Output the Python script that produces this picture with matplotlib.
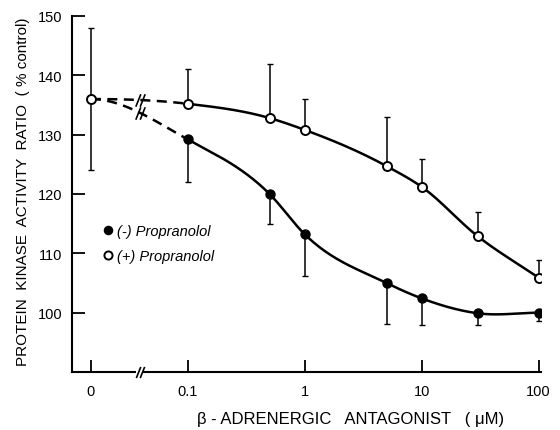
import numpy as np
import matplotlib
matplotlib.use('Agg')
import matplotlib.pyplot as plt
from matplotlib.path import Path

# --- data ---
conc = [0, 0.1, 0.5, 1, 5, 10, 30, 100]          # uM

plus_mean = [136, 135.2, 132.8, 130.8, 124.7, 121.2, 112.9, 105.9]
plus_hi   = [148, 141.0, 141.9, 136.0, 133.0, 125.9, 116.9, 108.8]
plus_lo   = [124, 135.2, 132.8, 130.8, 124.7, 121.2, 112.9, 105.9]

minus_mean = [136, 129.2, 120.0, 113.2, 105.0, 102.4, 99.9, 100.0]
minus_lo   = [136, 122.0, 115.0, 106.2, 98.1, 98.0, 98.0, 98.6]

xticks = [0, 0.1, 1, 10, 100]
xticklabels = ['0', '0.1', '1', '10', '100']
yticks = [100, 110, 120, 130, 140, 150]

plt.rcParams['font.family'] = ['Liberation Sans', 'DejaVu Sans']

# broken axis: 0 sits left of 0.1, log scale after that
P0 = -1.829


def fwd(x):
    x = np.asarray(x, dtype=float)
    lin = P0 + x / 0.1 * (-1 - P0)
    lg = np.log10(np.maximum(x, 1e-12))
    return np.where(x >= 0.1, lg, lin)


def inv(p):
    p = np.asarray(p, dtype=float)
    lin = (p - P0) / (-1 - P0) * 0.1
    return np.where(p >= -1, 10.0 ** np.minimum(p, 10), lin)


def smooth(xs, ys, n=40):
    # cubic hermite through the points in scale space, flat start
    px = fwd(xs)
    ys = np.asarray(ys, dtype=float)
    m = np.zeros(len(px))
    for k in range(1, len(px) - 1):
        h1 = px[k] - px[k - 1]
        h2 = px[k + 1] - px[k]
        d1 = (ys[k] - ys[k - 1]) / h1
        d2 = (ys[k + 1] - ys[k]) / h2
        m[k] = (h2 * d1 + h1 * d2) / (h1 + h2)
    m[-1] = (ys[-1] - ys[-2]) / (px[-1] - px[-2])
    m[0] = 0
    outx, outy = [], []
    for k in range(len(px) - 1):
        h = px[k + 1] - px[k]
        t = np.linspace(0, 1, n)
        h00 = 2 * t**3 - 3 * t**2 + 1
        h10 = t**3 - 2 * t**2 + t
        h01 = -2 * t**3 + 3 * t**2
        h11 = t**3 - t**2
        yy = h00 * ys[k] + h10 * h * m[k] + h01 * ys[k + 1] + h11 * h * m[k + 1]
        outx.append(px[k] + t * h)
        outy.append(yy)
    return np.concatenate(outx), np.concatenate(outy)


fig = plt.figure(figsize=(5.6, 4.31), dpi=100)
ax = fig.add_axes([0.1286, 0.1346, 0.8375, 0.826])
ax.set_xscale('function', functions=(fwd, inv))

for mean in (plus_mean, minus_mean):
    sx, sy = smooth(conc, mean)
    dash = sx <= -1
    ax.plot(inv(sx[dash]), sy[dash], color='k', lw=1.8, ls=(0, (4, 2.6)))
    ax.plot(inv(sx[~dash]), sy[~dash], color='k', lw=1.8)

# error bars (one sided)
plus_err = [np.array(plus_mean) - np.array(plus_lo), np.array(plus_hi) - np.array(plus_mean)]
minus_err = [np.array(minus_mean) - np.array(minus_lo), np.zeros(len(conc))]
ax.errorbar(conc, minus_mean, yerr=minus_err, fmt='none', ecolor='k', elinewidth=1.1, capsize=2)
ax.errorbar(conc, plus_mean, yerr=plus_err, fmt='none', ecolor='k', elinewidth=1.1, capsize=2)

ax.plot(conc[1:], minus_mean[1:], 'o', color='k', ms=6.5, zorder=5, label='(-) Propranolol')
ax.plot(conc, plus_mean, 'o', mfc='white', mec='k', mew=1.4, ms=6.5, zorder=6, label='(+) Propranolol')

# break marks
brk = Path([(-0.75, -1), (0.05, 1), (-0.05, -1), (0.75, 1)],
           [Path.MOVETO, Path.LINETO, Path.MOVETO, Path.LINETO])
pb = -1.41
xb = float(inv(pb))
for mean in (plus_mean, minus_mean):
    sx, sy = smooth(conc, mean)
    yb = np.interp(pb, sx, sy)
    ax.plot([xb], [yb], marker=brk, ms=9, mew=1.2, color='k', ls='none', zorder=7)
ax.plot([float(inv(pb - 0.03)), float(inv(pb + 0.03))], [90, 90], color='white', lw=3,
        clip_on=False, zorder=8, solid_capstyle='butt')
ax.plot([xb], [90], marker=brk, ms=8, mew=1.2, color='k', ls='none', clip_on=False, zorder=9)

ax.set_xlim(float(inv(-1.99)), float(inv(2.02)))
ax.set_ylim(90, 150)
ax.set_xticks(xticks)
ax.set_xticklabels(xticklabels)
ax.set_xticks([], minor=True)
ax.set_yticks(yticks)

for s in ['top', 'right']:
    ax.spines[s].set_visible(False)
for s in ['left', 'bottom']:
    ax.spines[s].set_linewidth(1.5)
ax.tick_params(direction='in', length=9, width=1.3, labelsize=10.5)
ax.tick_params(axis='x', pad=9)
ax.tick_params(axis='y', pad=7)

ax.set_ylabel('PROTEIN  KINASE  ACTIVITY  RATIO  ( % control)', fontsize=11)
ax.yaxis.set_label_coords(-0.09, 0.508)
ax.set_xlabel('\u03b2 - ADRENERGIC   ANTAGONIST   ( \u03bcM)', fontsize=12)
ax.xaxis.set_label_coords(0.593, -0.11)

ax.legend(loc='upper left', bbox_to_anchor=(0.068, 0.415), frameon=False,
          handlelength=0.5, handletextpad=0.4, borderpad=0, borderaxespad=0,
          labelspacing=0.75, markerscale=0.9,
          prop={'style': 'italic', 'size': 10.5})

plt.savefig('out.png', dpi=100)
